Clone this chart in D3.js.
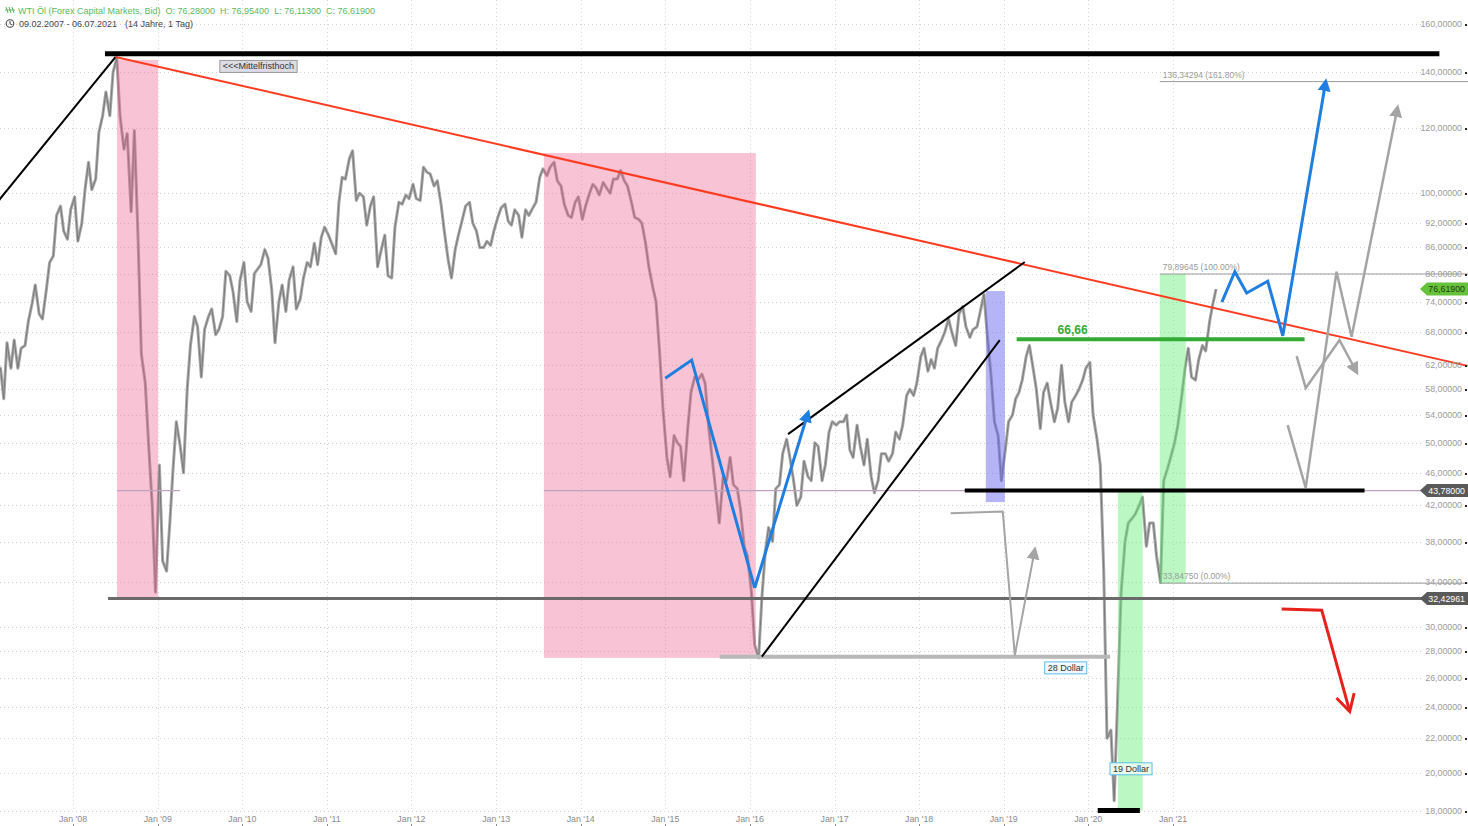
<!DOCTYPE html>
<html><head><meta charset="utf-8">
<script src="https://cdn.jsdelivr.net/npm/d3@7"></script>
<style>body{margin:0;background:#fff;} svg{display:block;font-family:"Liberation Sans",Arial,sans-serif;}</style>
</head><body><svg id="c" width="1468" height="826"></svg>
<script>
// ---------- DATA (semi-monthly price extremes, in time order) ----------
const p2007 = [59.9,61.5, 56.5,66.0, 61.5,66.5, 61.5,65.0, 65.5,70.0, 73.5,77.5, 71.5,70.5, 76.5,82.5, 84.0,94.0, 96.5,90.0, 88.0,95.5]; // Feb-Dec
const p2008 = [99.0,87.5, 92.0,101.0, 109.0,101.0, 104.0,118.5, 124.0,132.5, 124.0,140.0, 145.5,124.0, 113.0,118.0, 95.0,119.0, 88.0,64.0, 59.0,50.0, 42.0,33.0];
const p2009 = [47.0,36.0, 35.0,40.0, 46.5,53.0, 49.5,46.0, 58.0,65.5, 71.0,69.0, 60.0,68.5, 71.0,72.5, 67.5,68.5, 71.0,80.5, 79.5,76.0, 70.0,78.5];
const p2010 = [82.5,74.0, 72.0,80.0, 81.0,82.0, 85.5,83.5, 76.5,66.0, 74.0,77.5, 72.0,78.5, 81.5,72.5, 74.5,79.0, 82.5,81.5, 87.0,82.0, 88.5,91.0];
const p2011 = [89.0,87.0, 84.5,97.5, 104.5,104.0, 110.0,112.5, 98.0,100.0, 99.0,91.5, 96.5,99.0, 81.5,85.0, 89.0,79.5, 79.0,91.0, 97.5,97.0, 99.5,98.5];
const p2012 = [102.5,98.5, 98.0,107.5, 106.0,105.5, 102.0,103.5, 97.0,90.0, 83.0,79.0, 85.5,89.0, 93.0,96.5, 97.5,92.0, 90.0,86.0, 86.0,87.5, 86.5,90.0];
const p2013 = [93.5,96.0, 97.0,92.5, 91.5,95.5, 94.0,88.5, 95.5,94.0, 96.0,97.5, 104.5,107.0, 105.0,107.5, 109.0,103.5, 102.0,97.0, 94.0,93.5, 97.5,99.0];
const p2014 = [93.0,96.5, 100.0,102.5, 101.5,99.5, 103.0,101.5, 100.0,104.0, 104.0,106.5, 103.5,102.0, 97.5,93.5, 93.0,92.0, 87.0,81.5, 77.0,74.0, 64.0,55.0];
const p2015 = [48.0,45.5, 51.0,50.0, 49.5,45.0, 52.0,57.5, 60.0,59.5, 60.5,59.0, 52.0,48.0, 43.5,40.0, 45.5,45.0, 48.0,44.5, 44.0,41.5, 37.5,36.5];
const p2016 = [33.0,28.5, 27.5,32.5, 37.0,39.5, 38.0,44.0, 44.5,48.5, 50.5,48.0, 45.0,42.0, 43.0,47.5, 45.5,45.0, 50.0,49.5, 45.0,47.0, 51.5,53.0];
const p2017 = [52.5,53.0, 53.0,54.0, 49.0,48.0, 52.5,49.5, 47.0,50.5, 45.5,43.5, 45.0,48.5, 48.5,47.5, 48.5,51.5, 50.5,52.5, 57.0,58.0, 57.0,59.0];
const p2018 = [63.5,65.0, 61.0,63.0, 61.5,65.0, 66.5,68.0, 70.5,68.0, 65.5,71.5, 73.0,69.0, 67.0,68.5, 69.0,72.0, 75.5,67.5, 60.0,53.0, 51.0,45.0];
const p2019 = [49.0,53.0, 54.0,56.5, 57.5,59.5, 63.5,65.5, 61.5,58.0, 52.0,57.5, 59.0,56.0, 53.0,55.0, 62.0,56.0, 53.0,56.0, 57.0,58.0, 59.5,61.5];
const p2020 = [62.5,54.0, 50.5,47.0, 35.0,22.0, 22.5,18.5, 25.0,33.0, 38.0,40.0, 40.5,41.0, 42.0,43.0, 37.5,40.0, 40.0,36.5, 33.9,45.0, 46.5,48.0];
const p2021 = [50.0,52.5, 57.0,61.5, 65.0,60.0, 59.5,63.0, 65.5,64.5, 70.0,73.5]; // Jan-Jun
const lastPoint = ["2021-07-06", 76.619];
const yearArrays = [[2007,1,p2007],[2008,0,p2008],[2009,0,p2009],[2010,0,p2010],[2011,0,p2011],[2012,0,p2012],[2013,0,p2013],[2014,0,p2014],[2015,0,p2015],[2016,0,p2016],[2017,0,p2017],[2018,0,p2018],[2019,0,p2019],[2020,0,p2020],[2021,0,p2021]];

const yTicks = [160,140,120,100,92,86,80,74,68,62,58,54,50,46,42,38,34,30,28,26,24,22,20,18];
const xTickYears = [2008,2009,2010,2011,2012,2013,2014,2015,2016,2017,2018,2019,2020,2021];
const headerParts = ["WTI Öl (Forex Capital Markets, Bid)","O: 76,28000","H: 76,95400","L: 76,11300","C: 76,61900"];
const subParts = ["09.02.2007 - 06.07.2021","(14 Jahre, 1 Tag)"];

// annotations (date, price)
const topLine = [["2008-05-18",147.3],["2024-02-25",147.3]];
const peakLine = [["2007-02-01",97.0],["2008-07-03",146.0]];
const redTrend = [["2008-07-03",146.0],["2024-06-26",61.9]];
const pinkBoxes = [["2008-07-09","2009-01-02",144.8,32.5],["2013-07-26","2016-01-27",111.8,27.5]];
const blueBoxes = [["2018-10-16","2019-01-06",76.2,42.4]];
const greenBoxes = [["2020-11-05","2021-02-25",79.89645,33.8475],["2020-05-08","2020-08-23",43.78,18.0]];
const fibStart = "2020-11-05", fibEnd = "2024-08-01";
const fibLevels = [[136.34294,"136,34294 (161.80%)"],[79.89645,"79,89645 (100.00%)"],[33.8475,"33,84750 (0.00%)"]];
const line4378a = [["2008-07-09",43.78],["2009-04-07",43.78]];
const line4378b = [["2013-07-26",43.78],["2024-03-20",43.78]];
const black4378 = [["2018-07-17",43.78],["2023-04-08",43.78]];
const line3243 = [["2008-05-31",32.42961],["2024-03-20",32.42961]];
const line28 = [["2015-08-24",27.6],["2020-04-04",27.6]];
const black18 = [["2020-02-11",18.0],["2020-08-11",18.0]];
const green6666 = [["2019-02-26",66.66],["2022-07-23",66.66]];
const blue2015 = [["2015-01-01",59.8],["2015-04-25",62.9],["2016-01-22",33.4]];
const blue2016 = [["2016-01-22",33.4],["2016-09-08",54.3]];
const wedgeUpper = [["2016-06-14",51.2],["2019-04-02",82.6]];
const wedgeLower = [["2016-02-22",27.6],["2018-12-15",66.5]];
const blueFuture = [["2021-07-31",73.9],["2021-09-25",80.4],["2021-11-15",75.8],["2022-02-14",78.3],["2022-04-20",67.3],["2022-10-22",136.2]];
const grayFutureA = [["2022-05-11",52.5],["2022-07-28",44.1],["2022-12-08",80.4],["2023-02-11",67.1],["2023-08-28",126.7]];
const grayFutureB = [["2022-06-19",63.6],["2022-07-28",58.2],["2022-12-21",66.5],["2023-03-04",60.9]];
const gray2019 = [["2018-05-17",41.1],["2018-12-28",41.3],["2019-02-18",27.7],["2019-05-15",37.1]];
const redFuture = [["2022-04-15",31.5],["2022-10-05",31.4],["2023-02-03",23.7]];

// ---------- SCALES ----------
const svg = d3.select("#c");
const P = d3.timeParse("%Y-%m-%d");
const x = d3.scaleTime().domain([new Date(2008,0,1), new Date(2021,0,1)]).range([73,1173]);
const y = d3.scaleLog().domain([160,18]).range([24,810.5]);
const fmt = v => d3.format(".5f")(v).replace(".",",");
const line = d3.line().x(d=>x(P(d[0]))).y(d=>y(d[1]));

// price series
const series = [];
yearArrays.forEach(([yr,m0,arr])=>{
  arr.forEach((v,i)=>{ series.push([new Date(yr, m0+Math.floor(i/2), i%2?22:8), v]); });
});
series.push([P(lastPoint[0]), lastPoint[1]]);

// defs (arrow markers)
const defs = svg.append("defs");
function tri(id,color,size){
  defs.append("marker").attr("id",id).attr("viewBox","0 0 10 10").attr("refX",7).attr("refY",5)
    .attr("markerWidth",size).attr("markerHeight",size).attr("markerUnits","userSpaceOnUse").attr("orient","auto")
    .append("path").attr("d","M0,0 L10,5 L0,10 z").attr("fill",color);
}
tri("aBlue","#1f7fe0",13); tri("aGray","#a4a4a4",13);
defs.append("marker").attr("id","aRed").attr("viewBox","0 0 12 12").attr("refX",10).attr("refY",6)
  .attr("markerWidth",22).attr("markerHeight",22).attr("markerUnits","userSpaceOnUse").attr("orient","auto")
  .append("path").attr("d","M1,1 L10,6 L1,11").attr("fill","none").attr("stroke","#e8201c").attr("stroke-width",1.6);

// ---------- GRID ----------
const g = svg.append("g");
g.selectAll(".hg").data(yTicks).enter().append("line")
  .attr("x1",0).attr("x2",1422).attr("y1",d=>Math.round(y(d))+0.5).attr("y2",d=>Math.round(y(d))+0.5)
  .attr("stroke","#cfcfd8").attr("stroke-dasharray","1,3");
g.selectAll(".vg").data(xTickYears).enter().append("line")
  .attr("x1",d=>Math.round(x(new Date(d,0,1)))+0.5).attr("x2",d=>Math.round(x(new Date(d,0,1)))+0.5)
  .attr("y1",0).attr("y2",812).attr("stroke","#d4d4dc").attr("stroke-dasharray","1,3");

// ---------- PRICE ----------
const pl = d3.line().x(d=>x(d[0])).y(d=>y(d[1]));
svg.append("path").attr("d",pl(series)).attr("fill","none").attr("stroke","#a8a8a8").attr("stroke-width",3).attr("stroke-linejoin","round");
svg.append("path").attr("d",pl(series)).attr("fill","none").attr("stroke","#7a7a7a").attr("stroke-width",1).attr("stroke-linejoin","round");

// ---------- BOXES ----------
function boxes(data,color,op){
  svg.append("g").selectAll("rect").data(data).enter().append("rect")
    .attr("x",d=>x(P(d[0]))).attr("width",d=>x(P(d[1]))-x(P(d[0])))
    .attr("y",d=>y(d[2])).attr("height",d=>y(d[3])-y(d[2]))
    .attr("fill",color).attr("opacity",op);
}
boxes(pinkBoxes,"#f06292",0.38);
boxes(blueBoxes,"#6a6af0",0.5);
boxes(greenBoxes,"#66ee7a",0.45);

// ---------- LINES ----------
function path(data,color,w,marker){
  const p = svg.append("path").attr("d",line(data)).attr("fill","none").attr("stroke",color)
    .attr("stroke-width",w).attr("stroke-linejoin","miter");
  if(marker) p.attr("marker-end","url(#"+marker+")");
  return p;
}
path(line4378a,"#bca4bc",1.3);
path(line4378b,"#bca4bc",1.3);
path(line3243,"#6a6a6a",3);
path(line28,"#b8b8b8",4);
// fib tool
fibLevels.forEach(([v,t])=>{
  path([[fibStart,v],[fibEnd,v]],"#9a9a9a",1);
  svg.append("text").attr("x",x(P(fibStart))+3).attr("y",y(v)-4).attr("font-size",8.5).attr("fill","#9a9a9a").text(t);
});

path(peakLine,"#000",2);
path(redTrend,"#ff3b1f",2);
path(topLine,"#000",5);
path(black4378,"#000",4);
path(black18,"#000",5);
path(green6666,"#33aa33",4);
path(wedgeUpper,"#000",2);
path(wedgeLower,"#000",2);
path(blue2015,"#1f7fe0",3);
path(blue2016,"#1f7fe0",3,"aBlue");
path(blueFuture,"#1f7fe0",3,"aBlue");
path(gray2019,"#a4a4a4",2,"aGray");
path(grayFutureA,"#a4a4a4",2.5,"aGray");
path(grayFutureB,"#a4a4a4",2.5,"aGray");
path(redFuture,"#e8201c",3,"aRed");

// ---------- LABELS ----------
svg.append("text").attr("x",(x(P(green6666[0][0]))+x(P(green6666[1][0])))/2-103).attr("y",y(66.66)-5)
  .attr("font-size",12).attr("font-weight","bold").attr("fill","#33aa33").text("66,66");

function boxLabel(dateStr,price,text,border,bg){
  const bx = x(P(dateStr)), by = y(price);
  const t = svg.append("text").attr("x",bx+3).attr("y",by+9).attr("font-size",9).attr("fill","#333").text(text);
  const w = t.node().getComputedTextLength();
  svg.insert("rect","text:last-of-type").attr("x",bx).attr("y",by).attr("width",w+6).attr("height",12)
    .attr("fill",bg).attr("stroke",border).attr("stroke-width",1);
  t.raise();
}
boxLabel("2009-09-26",144.6,"<<<Mittelfristhoch","#999","#dcdce4");
boxLabel("2019-06-27",27.2,"28 Dollar","#5bbdf0","#f2f8ff");
boxLabel("2020-04-04",20.55,"19 Dollar","#5bbdf0","#e8fbea");

// ---------- RIGHT AXIS ----------
const ra = svg.append("g");
ra.selectAll("text").data(yTicks).enter().append("text")
  .attr("x",1462).attr("y",d=>y(d)+3).attr("text-anchor","end").attr("font-size",8.8).attr("fill","#9a9a9a").text(fmt);
ra.selectAll("rect").data(yTicks).enter().append("rect")
  .attr("x",1465).attr("y",d=>Math.round(y(d))).attr("width",2).attr("height",2).attr("fill","#222");

function priceTag(v,bg,fg){
  const cy = y(v), x0 = 1420, x1 = 1468;
  svg.append("path").attr("d",`M${x0},${cy} L${x0+7},${cy-6.5} L${x1},${cy-6.5} L${x1},${cy+6.5} L${x0+7},${cy+6.5} Z`).attr("fill",bg);
  svg.append("text").attr("x",1465).attr("y",cy+3.2).attr("text-anchor","end").attr("font-size",8.8).attr("fill",fg).text(fmt(v));
}
priceTag(lastPoint[1],"#66c23a","#1d3d10");
priceTag(43.78,"#5a5a5a","#fff");
priceTag(32.42961,"#5a5a5a","#fff");

// ---------- BOTTOM AXIS ----------
const ba = svg.append("g");
ba.selectAll("text").data(xTickYears).enter().append("text")
  .attr("x",d=>x(new Date(d,0,1))).attr("y",822).attr("text-anchor","middle").attr("font-size",8.8).attr("fill","#8a8a8a")
  .text(d=>"Jan '"+String(d).slice(2));
ba.selectAll("rect").data(xTickYears).enter().append("rect")
  .attr("x",d=>Math.round(x(new Date(d,0,1)))).attr("y",824).attr("width",1).attr("height",2).attr("fill","#888");

// ---------- HEADER ----------
function chain(parts,x0,yb,color,gap){
  let cx = x0;
  parts.forEach(t=>{
    const el = svg.append("text").attr("x",cx).attr("y",yb).attr("font-size",9).attr("fill",color).text(t);
    cx += el.node().getComputedTextLength() + gap;
  });
}
chain(headerParts,18,14,"#5cb85c",5);
chain(subParts,19,27,"#444",8);
// small icons
svg.append("path").attr("d","M6,7 L8,13 M9,7 L11,13 M12,7 L14,13 M5,10 L15,10").attr("stroke","#5cb85c").attr("stroke-width",1).attr("fill","none");
svg.append("circle").attr("cx",10).attr("cy",23.5).attr("r",3.8).attr("fill","none").attr("stroke","#444").attr("stroke-width",1.1);
svg.append("path").attr("d","M10,21 L10,23.7 L12,24.8").attr("stroke","#444").attr("stroke-width",1).attr("fill","none");
</script></body></html>
